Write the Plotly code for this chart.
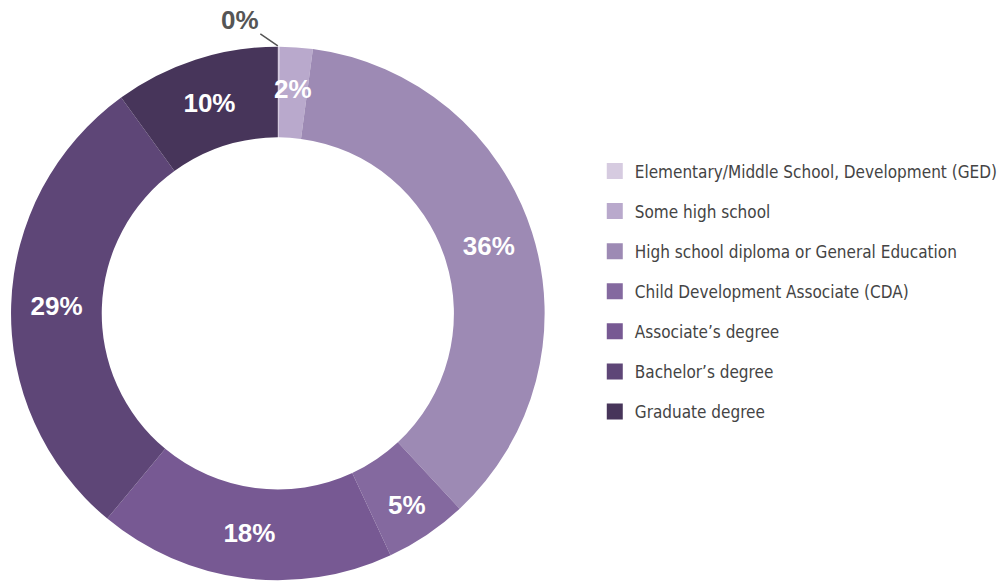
import math
import plotly.graph_objects as go

categories = [
    "Elementary/Middle School, Development (GED)",
    "Some high school",
    "High school diploma or General Education",
    "Child Development Associate (CDA)",
    "Associate’s degree",
    "Bachelor’s degree",
    "Graduate degree",
]
values = [0.1, 2, 36, 5, 18, 29, 10]
pct_labels = ["0%", "2%", "36%", "5%", "18%", "29%", "10%"]
colors = ["#d6cbe0", "#b9a9cc", "#9d8ab4", "#84699f", "#775993", "#5e4677", "#47355a"]

W, H = 1003, 581
dom_x = [0.011, 0.543]
dom_y = [0.0, 0.921]
HOLE = 0.66
label_font = dict(family="Liberation Sans", size=26, color="white", weight="bold")

# slices labelled by annotation (too thin for plotly's inside text)
ann_idx = {0, 1}

fig = go.Figure()
fig.add_trace(go.Pie(
    labels=categories,
    values=values,
    text=pct_labels,
    textinfo="text",
    textposition=["none" if i in ann_idx else "inside" for i in range(len(values))],
    insidetextorientation="horizontal",
    marker=dict(colors=colors, line=dict(width=0)),
    hole=HOLE,
    sort=False,
    direction="clockwise",
    rotation=0,
    domain=dict(x=dom_x, y=dom_y),
    textfont=label_font,
    showlegend=False,
    hoverinfo="label+text",
))

# legend entries via dummy traces to control row spacing
for i, (c, col) in enumerate(zip(categories, colors)):
    fig.add_trace(go.Scatter(
        x=[None], y=[None], mode="markers",
        marker=dict(symbol="square", size=16, color=col),
        name=c, legendgroup=f"g{i}", showlegend=True,
    ))

# geometry of the pie in paper units
cx = (dom_x[0] + dom_x[1]) / 2
cy = (dom_y[0] + dom_y[1]) / 2
R = min((dom_x[1] - dom_x[0]) * W, (dom_y[1] - dom_y[0]) * H) / 2
total = sum(values)

# 2% label at slice middle (slightly outward like the reference)
cum = sum(values[:1]) + values[1] / 2
a = 2 * math.pi * cum / total
rm = R * (1 + HOLE) / 2 + 4
fig.add_annotation(
    x=cx + rm * math.sin(a) / W, y=cy + rm * math.cos(a) / H,
    xref="paper", yref="paper", xanchor="center", yanchor="middle",
    text=pct_labels[1], showarrow=False, font=label_font,
)

# 0% label with leader line
fig.add_annotation(
    x=cx, y=dom_y[1], xref="paper", yref="paper",
    text=pct_labels[0], showarrow=True, arrowhead=0, arrowwidth=1.5,
    arrowcolor="#555555", ax=-38, ay=-26,
    font=dict(family="Liberation Sans", size=26, color="#555555", weight="bold"),
)

fig.update_layout(
    width=W, height=H,
    margin=dict(l=0, r=0, t=0, b=0),
    paper_bgcolor="white", plot_bgcolor="white",
    xaxis=dict(visible=False), yaxis=dict(visible=False),
    uniformtext=dict(minsize=26, mode="show"),
    legend=dict(
        x=0.593, y=0.736, xanchor="left", yanchor="top",
        font=dict(family="DejaVu Sans Condensed", size=17, color="#444444"),
        tracegroupgap=15, itemsizing="trace",
        bgcolor="rgba(0,0,0,0)",
    ),
)

fig.write_html("out.html")
